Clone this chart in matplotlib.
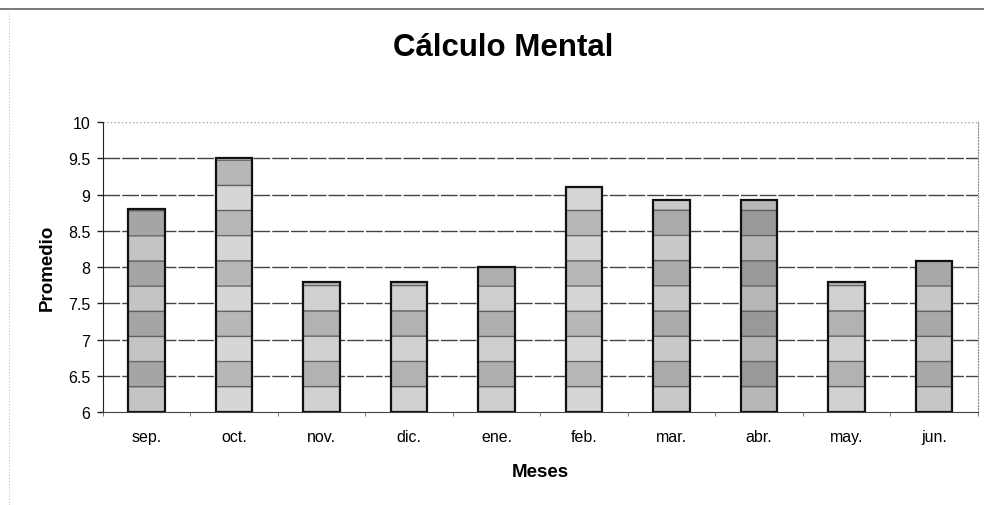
import numpy as np
import matplotlib.pyplot as plt
from matplotlib.lines import Line2D

plt.rcParams['font.family'] = ['Liberation Sans', 'DejaVu Sans']

meses = ['sep.', 'oct.', 'nov.', 'dic.', 'ene.', 'feb.', 'mar.', 'abr.', 'may.', 'jun.']
promedio = [8.8, 9.5, 7.8, 7.8, 8.0, 9.1, 8.93, 8.92, 7.8, 8.08]
y_ticks = [6, 6.5, 7, 7.5, 8, 8.5, 9, 9.5, 10]
y_labels = ['6', '6.5', '7', '7.5', '8', '8.5', '9', '9.5', '10']

# darkness of the fill per bar (scanned texture varies a bit)
shade = [0.07, 0.0, 0.02, 0.02, 0.03, 0.0, 0.05, 0.12, 0.02, 0.06]


def band_texture(dark, n=2000, ymin=6.0, ymax=10.0, step=0.347):
    ys = np.linspace(ymax, ymin, n)
    k = np.floor((ys - ymin) / step).astype(int)
    light = np.where(k % 2 == 0, 0.84, 0.72) - dark
    frac = ((ys - ymin) / step) % 1.0
    edge = (frac < 0.022) | (frac > 0.978)
    light[edge] = 0.30
    img = np.repeat(light[:, None], 2, axis=1)
    return np.dstack([img, img, img])


fig = plt.figure(figsize=(9.84, 5.06), dpi=100)
ax = fig.add_axes([0.1044, 0.1838, 0.8892, 0.5731])

x = np.arange(len(meses))
width = 0.42
bars = ax.bar(x, [v - 6 for v in promedio], bottom=6, width=width,
              facecolor='none', edgecolor='#111111', linewidth=1.6, zorder=4)

for i, b in enumerate(bars):
    im = ax.imshow(band_texture(shade[i]), extent=[x[i] - width / 2, x[i] + width / 2, 6, 10],
                   aspect='auto', interpolation='bilinear', zorder=3)
    im.set_clip_path(b)

ax.set_xlim(-0.5, len(meses) - 0.5)
ax.set_ylim(6, 10)

# gridlines
for yv in y_ticks[1:-1]:
    ax.axhline(yv, color='#444444', lw=1.0, ls=(0, (12, 1.5)), zorder=1)
ax.axhline(10, color='#a0a0a0', lw=1.0, ls=':', zorder=1)

ax.spines['top'].set_visible(False)
ax.spines['right'].set_color('#8a8a8a')
ax.spines['right'].set_linestyle(':')
ax.spines['left'].set_color('#222222')
ax.spines['bottom'].set_color('#444444')

ax.set_yticks(y_ticks)
ax.set_yticklabels(y_labels, fontsize=11.5)
ax.tick_params(axis='y', length=4, width=1, pad=5, color='#222222')

ax.set_xticks(x)
ax.set_xticklabels(meses, fontsize=11.5)
ax.set_xticks(np.arange(len(meses) + 1) - 0.5, minor=True)
ax.tick_params(axis='x', which='major', length=0, pad=12)
ax.tick_params(axis='x', which='minor', length=3, color='#666666')

ax.set_ylabel('Promedio', fontsize=13.5, fontweight='bold', labelpad=9)
ax.set_xlabel('Meses', fontsize=13.5, fontweight='bold', labelpad=14)

fig.text(0.511, 0.906, 'Cálculo Mental', fontsize=22.5, fontweight='bold',
         ha='center', va='center')

# scanned page frame
fig.add_artist(Line2D([0, 1], [0.980, 0.980], color='#707070', lw=1.3))
fig.add_artist(Line2D([0.009, 0.009], [0.0, 0.975], color='#c4c4c4', lw=0.8, ls=':'))

fig.savefig('out.png', dpi=100)
